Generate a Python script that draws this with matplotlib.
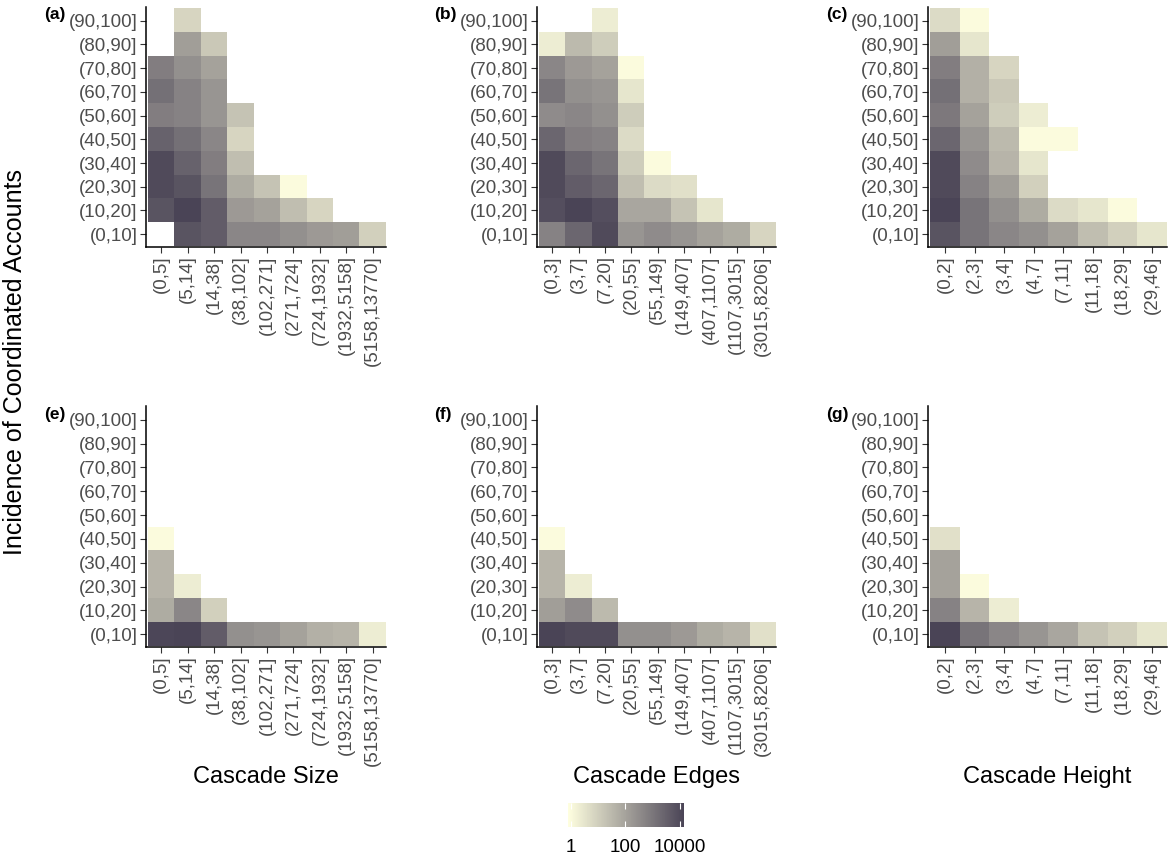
import matplotlib.pyplot as plt
import numpy as np
from matplotlib.colors import LinearSegmentedColormap, LogNorm

plt.rcParams['font.family'] = ['Liberation Sans', 'DejaVu Sans']

nan = np.nan

# y bins (bottom to top)
y_labels = ['(0,10]', '(10,20]', '(20,30]', '(30,40]', '(40,50]',
            '(50,60]', '(60,70]', '(70,80]', '(80,90]', '(90,100]']

size_labels = ['(0,5]', '(5,14]', '(14,38]', '(38,102]', '(102,271]',
               '(271,724]', '(724,1932]', '(1932,5158]', '(5158,13770]']
edge_labels = ['(0,3]', '(3,7]', '(7,20]', '(20,55]', '(55,149]',
               '(149,407]', '(407,1107]', '(1107,3015]', '(3015,8206]']
height_labels = ['(0,2]', '(2,3]', '(3,4]', '(4,7]', '(7,11]',
                 '(11,18]', '(18,29]', '(29,46]']

# counts, rows written top (90,100] -> bottom (0,10]
size_top = [
    [nan, 7, nan, nan, nan, nan, nan, nan, nan],
    [nan, 126, 14, nan, nan, nan, nan, nan, nan],
    [680, 260, 99, nan, nan, nan, nan, nan, nan],
    [1400, 540, 200, nan, nan, nan, nan, nan, nan],
    [680, 540, 200, 18, nan, nan, nan, nan, nan],
    [2900, 1400, 420, 7, nan, nan, nan, nan, nan],
    [9800, 2900, 680, 23, nan, nan, nan, nan, nan],
    [9800, 6000, 1100, 61, 18, 1, nan, nan, nan],
    [6000, 14000, 3700, 160, 99, 23, 7, nan, nan],
    [nan, 6000, 3700, 420, 420, 260, 160, 126, 9],
]
edges_top = [
    [nan, nan, 2, nan, nan, nan, nan, nan, nan],
    [2, 30, 11, nan, nan, nan, nan, nan, nan],
    [420, 160, 99, 1, nan, nan, nan, nan, nan],
    [1100, 260, 200, 3, nan, nan, nan, nan, nan],
    [330, 420, 260, 11, nan, nan, nan, nan, nan],
    [2300, 680, 540, 5, nan, nan, nan, nan, nan],
    [9800, 2300, 1100, 11, 1, nan, nan, nan, nan],
    [9800, 3700, 2300, 23, 5, 4, nan, nan, nan],
    [7700, 14000, 7700, 78, 78, 18, 3, nan, nan],
    [540, 2300, 9800, 200, 330, 200, 99, 61, 7],
]
height_top = [
    [5, 1, nan, nan, nan, nan, nan, nan],
    [126, 3, nan, nan, nan, nan, nan, nan],
    [680, 48, 7, nan, nan, nan, nan, nan],
    [1400, 48, 14, nan, nan, nan, nan, nan],
    [870, 99, 11, 2, nan, nan, nan, nan],
    [2300, 200, 30, 1, 1, nan, nan, nan],
    [9800, 330, 38, 3, nan, nan, nan, nan],
    [9800, 540, 126, 9, nan, nan, nan, nan],
    [14000, 1100, 260, 61, 5, 3, 1, nan],
    [6000, 1100, 420, 260, 99, 23, 9, 3],
]
size_bot = [
    [nan] * 9, [nan] * 9, [nan] * 9, [nan] * 9, [nan] * 9,
    [1, nan, nan, nan, nan, nan, nan, nan, nan],
    [38, nan, nan, nan, nan, nan, nan, nan, nan],
    [38, 2, nan, nan, nan, nan, nan, nan, nan],
    [61, 420, 9, nan, nan, nan, nan, nan, nan],
    [12000, 14000, 3700, 260, 200, 99, 48, 38, 2],
]
edges_bot = [
    [nan] * 9, [nan] * 9, [nan] * 9, [nan] * 9, [nan] * 9,
    [1, nan, nan, nan, nan, nan, nan, nan, nan],
    [38, nan, nan, nan, nan, nan, nan, nan, nan],
    [38, 2, nan, nan, nan, nan, nan, nan, nan],
    [126, 330, 30, nan, nan, nan, nan, nan, nan],
    [14000, 9800, 9800, 260, 260, 160, 61, 38, 4],
]
height_bot = [
    [nan] * 8, [nan] * 8, [nan] * 8, [nan] * 8, [nan] * 8,
    [4, nan, nan, nan, nan, nan, nan, nan],
    [99, nan, nan, nan, nan, nan, nan, nan],
    [99, 1, nan, nan, nan, nan, nan, nan],
    [540, 38, 2, nan, nan, nan, nan, nan],
    [14000, 1100, 420, 200, 78, 18, 9, 3],
]

panels = [
    ('(a)', size_top, size_labels), ('(b)', edges_top, edge_labels), ('(c)', height_top, height_labels),
    ('(e)', size_bot, size_labels), ('(f)', edges_bot, edge_labels), ('(g)', height_bot, height_labels),
]
x_titles = ['Cascade Size', 'Cascade Edges', 'Cascade Height']
cbar_ticks = [1, 100, 10000]

W, H = 1168, 860
fig = plt.figure(figsize=(W / 100, H / 100), dpi=100)

cmap = LinearSegmentedColormap.from_list('ly', ['#FFFFE0', '#4A4456'])
norm = LogNorm(vmin=0.8, vmax=14000)

lefts = [146, 537, 928]
rights = [386, 776, 1167]
tops = [7, 406]
bottoms = [247, 647]
lab_x = [44, 434, 826]
lab_y = [15, 415]

for i, (tag, data, xl) in enumerate(panels):
    r, c = divmod(i, 3)
    ax = fig.add_axes([lefts[c] / W, 1 - bottoms[r] / H,
                       (rights[c] - lefts[c]) / W, (bottoms[r] - tops[r]) / H])
    M = np.array(data, dtype=float)[::-1]
    ncol = M.shape[1]
    ax.imshow(np.ma.masked_invalid(M), origin='lower', aspect='auto',
              cmap=cmap, norm=norm, interpolation='nearest')
    ax.set_xlim(-0.58, ncol - 0.5)
    ax.set_ylim(-0.54, 9.58)
    ax.set_xticks(range(ncol))
    ax.set_xticklabels(xl, rotation=90)
    ax.set_yticks(range(10))
    ax.set_yticklabels(y_labels)
    ax.tick_params(labelsize=13.5, labelcolor='#4d4d4d', color='#333333',
                   length=4, width=0.8, pad=2)
    for s in ['top', 'right']:
        ax.spines[s].set_visible(False)
    for s in ['left', 'bottom']:
        ax.spines[s].set_linewidth(1.1)
    fig.text(lab_x[c] / W, 1 - lab_y[r] / H, tag, fontsize=12.5,
             fontweight='bold', ha='left', va='center')

for c, t in enumerate(x_titles):
    fig.text((lefts[c] + rights[c]) / 2 / W, 1 - 777 / H, t, fontsize=17,
             ha='center', va='center')

fig.text(15 / W, 1 - 362 / H, 'Incidence of Coordinated Accounts', fontsize=18,
         rotation=90, ha='center', va='center')

# colour bar
cax = fig.add_axes([568 / W, 1 - 827 / H, (684 - 568) / W, 24 / H])
sm = plt.cm.ScalarMappable(norm=norm, cmap=cmap)
cb = fig.colorbar(sm, cax=cax, orientation='horizontal', ticks=cbar_ticks)
cb.outline.set_visible(False)
cb.set_ticklabels(['1', '100', '10000'])
cax.minorticks_off()
cax.tick_params(axis='x', which='major', direction='in', color='white',
                length=4, width=0.8, top=True, bottom=True,
                labelsize=13.5, labelcolor='black', pad=9)

fig.savefig('out.png', dpi=100)
